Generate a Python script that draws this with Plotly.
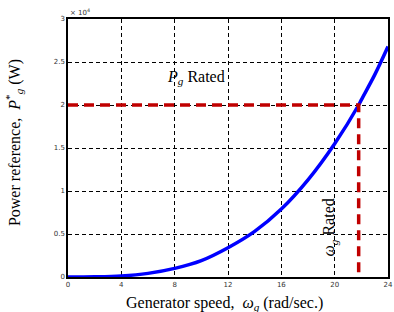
import plotly.graph_objects as go

# Generator speed (rad/s) and power reference (x 10^4 W)
speed = [0, 2, 4, 6, 8, 10, 12, 14, 16, 18, 20, 21.8, 22, 23, 24]
power = [0, 0.002, 0.012, 0.042, 0.10, 0.19, 0.34, 0.53, 0.79, 1.13, 1.55, 2.0, 2.06, 2.35, 2.68]

rated_speed = 21.8
rated_power = 2.0

x_ticks = [0, 4, 8, 12, 16, 20, 24]
y_ticks = [0, 0.5, 1, 1.5, 2, 2.5, 3]
y_tick_text = ["0", "0.5", "1", "1.5", "2", "2.5", "3"]

fig = go.Figure()
fig.add_trace(go.Scatter(x=speed, y=power, mode="lines", line=dict(color="#0000ff", width=3.5, shape="spline"), showlegend=False))
fig.add_trace(go.Scatter(x=[0, rated_speed, rated_speed], y=[rated_power, rated_power, 0], mode="lines",
                         line=dict(color="#c00000", width=3.5, dash="10px,6px"), showlegend=False))

serif = "Liberation Serif"
axis_common = dict(showline=True, linecolor="black", linewidth=1.5, mirror=True,
                   showgrid=True, gridcolor="black", griddash="4px,3px", gridwidth=1,
                   zeroline=False, ticks="", tickfont=dict(family="DejaVu Sans", size=7, color="#333"))
fig.update_xaxes(range=[0, 24], tickvals=x_ticks, ticktext=[str(v) for v in x_ticks], automargin=False, **axis_common)
fig.update_yaxes(range=[0, 3], tickvals=y_ticks, ticktext=y_tick_text, automargin=False, **axis_common)

fig.update_layout(
    width=394, height=312, margin=dict(l=68, r=6, t=19, b=35),
    paper_bgcolor="white", plot_bgcolor="white",
    font=dict(family=serif, color="black"),
    annotations=[
        dict(text="Generator speed,  <i>ω<sub>g</sub></i> (rad/sec.)", xref="paper", yref="paper",
             x=0.49, y=-0.06, xanchor="center", yanchor="top", showarrow=False, font=dict(size=16, family=serif)),
        dict(text="Power reference,  <i>P</i><sup>*</sup><sub><i>g</i></sub> (W)", xref="paper", yref="paper",
             x=-0.168, y=0.52, xanchor="center", yanchor="middle", textangle=-90, showarrow=False,
             font=dict(size=16, family=serif)),
        dict(text="× 10<sup>4</sup>", xref="paper", yref="paper", x=0.0, y=1.0, xanchor="left", yanchor="bottom",
             showarrow=False, font=dict(size=7, family="DejaVu Sans", color="#333")),
        dict(text="<i>P</i><sub><i>g</i></sub> Rated", x=9.6, y=2.32, xanchor="center", yanchor="middle",
             showarrow=False, font=dict(size=16, family=serif)),
        dict(text="<i>ω</i><sub><i>g</i></sub> Rated", x=19.6, y=0.58, xanchor="center", yanchor="middle",
             textangle=-90, showarrow=False, font=dict(size=16, family=serif)),
    ],
)

fig.write_html("out.html")
